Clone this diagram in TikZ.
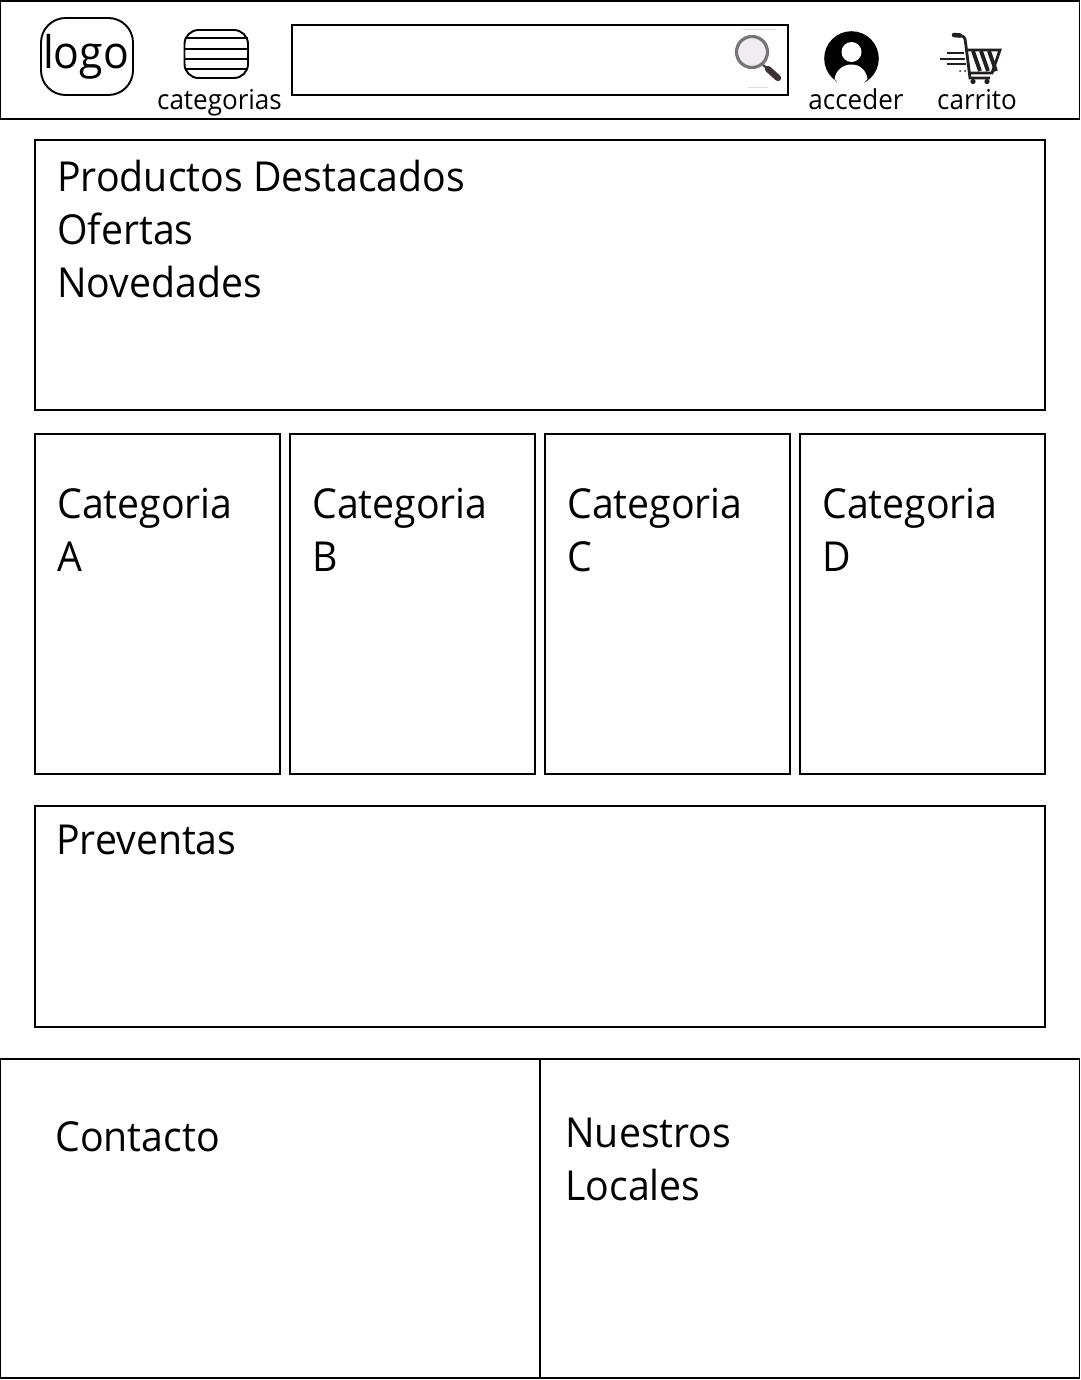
\documentclass[tikz,border=0pt]{standalone}
\usepackage{fontspec}
\setmainfont[FakeStretch=0.95]{Open Sans}
\usepackage{xcolor}
\usepackage{tikz}
\definecolor{lensgray}{HTML}{7A7378}
\definecolor{lensfill}{HTML}{EFEDF0}
\definecolor{handledark}{HTML}{3A3238}
\definecolor{cartdark}{HTML}{231F20}
\tikzset{
  panel/.style={draw=black, line width=1.1pt},
  bigtext/.style={anchor=base west, inner sep=0pt, font=\fontsize{23.5}{30}\selectfont},
  smalltext/.style={anchor=base, inner sep=0pt, font=\fontsize{15.6}{18}\selectfont},
  cartline/.style={draw=cartdark, line width=1.6pt},
}
\begin{document}
\begin{tikzpicture}[x=0.02cm,y=-0.02cm]
  \useasboundingbox (0,0) rectangle (1080,1380);
  % header
  \draw[panel] (0,1) rectangle (1079.5,119);
  \draw[panel, rounded corners=14pt] (41,18) rectangle (133,95);
  \node[anchor=base, inner sep=0pt, font=\fontsize{25.6}{30}\selectfont] (logo) at (86,68) {logo};
  % menu icon
  \draw[panel, rounded corners=8pt] (184.5,30) rectangle (248,78);
  \foreach \y in {38,49,59,69} \draw[line width=1.1pt] (184.5,\y) -- (248,\y);
  \node[smalltext] (categorias) at (219.5,109) {categorias};
  % search box
  \draw[panel] (292,25) rectangle (788,95);
  \draw[gray!25, line width=0.3pt] (742,29) -- (775,29);
  \draw[gray!25, line width=0.3pt] (748,87) -- (768,87);
  \draw[handledark, line width=1.2pt] (763,65) -- (768,69);
  \draw[handledark, line width=3.6pt, line cap=round] (768,69) -- (778,78);
  \draw[lensgray, fill=lensfill, line width=1.8pt] (752,52) circle (15.5);
  % user icon
  \fill (851.5,58.5) circle (27.3);
  \fill[white] (851.5,52) circle (10);
  \fill[white] (834.5,79) .. controls (836,70) and (843,64.5) .. (851.5,64.5) .. controls (860,64.5) and (866,70) .. (867.5,79) -- (860,87) -- (843,87) -- cycle;
  \node[smalltext] (acceder) at (856,109) {acceder};
  % cart icon
  \draw[cartdark, line width=2.6pt, line cap=round] (954,35) -- (960,35.5);
  \draw[cartline] (960,35.5) .. controls (964,36) and (965,38) .. (965.5,42) -- (970,78) -- (990,78);
  \draw[cartline] (965,50) -- (1000,50) -- (992,73) -- (970,73);
  \foreach \x in {973,981,989} \draw[cartdark, line width=2.2pt] (\x,51) -- (\x+7,71);
  \draw[cartdark, line width=1.2pt] (947,53) -- (964,53);
  \draw[cartdark, line width=1.2pt] (940,59) -- (965,59);
  \draw[cartdark, line width=1.2pt] (947,64) -- (966,64);
  \fill[cartdark] (960,71) circle (1) (965,71) circle (1);
  \fill[cartdark] (973,81.5) circle (2.6) (987,81.5) circle (2.6);
  \node[smalltext] (carrito) at (977,109) {carrito};
  % featured products
  \draw[panel] (35,140) rectangle (1045,410);
  \node[bigtext] (destacados) at (57,191) {Productos Destacados};
  \node[bigtext] (ofertas) at (57,244) {Ofertas};
  \node[bigtext] (novedades) at (57,297) {Novedades};
  % categories
  \foreach \x/\l in {35/A,290/B,545/C,800/D} {
    \draw[panel] (\x,434) rectangle (\x+245,774);
    \node[bigtext] (cat\l) at (\x+22,518) {Categoria};
    \node[bigtext] (letter\l) at (\x+22,571) {\l};
  }
  % presales
  \draw[panel] (35,806) rectangle (1045,1027);
  \node[bigtext] (preventas) at (56,854) {Preventas};
  % footer
  \draw[panel] (0,1059) rectangle (540,1378);
  \draw[panel] (540,1059) rectangle (1079.5,1378);
  \node[bigtext] (contacto) at (55,1151) {Contacto};
  \node[bigtext] (nuestros) at (565,1147) {Nuestros};
  \node[bigtext] (locales) at (565,1200) {Locales};
\end{tikzpicture}
\end{document}
